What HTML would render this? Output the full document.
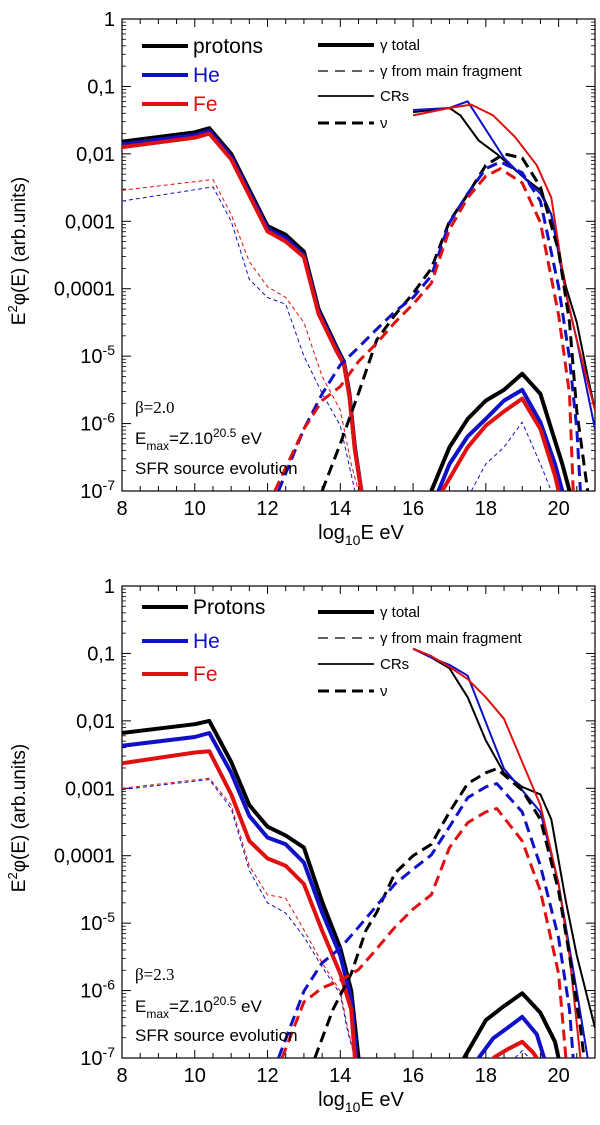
<!DOCTYPE html>
<html><head><meta charset="utf-8"><style>
html,body{margin:0;padding:0;background:#fff;}
svg{display:block;font-family:"Liberation Sans",sans-serif;}
</style></head><body>
<svg id="fig" width="600" height="1125" viewBox="0 0 600 1125"></svg>
<script>
// ---------- data (x = log10 E, y = log10 E^2 phi) ----------
// Top panel (beta = 2.0)
const tProtX=[8,10,10.4,11,12,12.5,13,13.4,13.9,14.1,14.25,14.4,14.58];
const tProtY=[-1.82,-1.68,-1.62,-2.0,-3.07,-3.2,-3.45,-4.3,-4.87,-5.08,-5.55,-6.35,-7];
const tHeY  =[-1.86,-1.72,-1.66,-2.04,-3.11,-3.25,-3.5,-4.34,-4.9,-5.1,-5.57,-6.37,-7];
const tFeY  =[-1.9,-1.76,-1.7,-2.08,-3.15,-3.3,-3.53,-4.37,-4.93,-5.12,-5.6,-6.4,-7];
const tFragRedX=[8,10.5,11,11.5,12,12.5,13,13.5,14,14.3,14.5];
const tFragRedY=[-2.54,-2.38,-2.9,-3.6,-3.97,-4.13,-4.5,-5.3,-5.8,-6.6,-7];
const tFragBlueX=[8,10.5,11,11.5,12,12.5,13,13.5,14,14.4];
const tFragBlueY=[-2.7,-2.49,-3.0,-3.86,-4.13,-4.23,-5.0,-5.55,-6.03,-7];
const tFragBlue2X=[17.6,18,18.5,19,19.5,19.8];
const tFragBlue2Y=[-7,-6.6,-6.35,-5.98,-6.6,-7];
const tCrBlackX=[16,17,17.3,17.8,18.3,19,19.5,19.8,20.2,20.5,20.8,21];
const tCrBlackY=[-1.38,-1.32,-1.43,-1.8,-2.0,-2.33,-2.54,-2.9,-3.97,-4.5,-5.3,-5.8];
const tCrBlueX=[16,17,17.5,18,18.5,19,19.5,19.8,20.2,20.5,21];
const tCrBlueY=[-1.35,-1.32,-1.22,-1.64,-2.06,-2.33,-2.59,-2.9,-4.07,-4.76,-6.08];
const tCrRedX=[16,17,17.6,18.2,18.8,19.4,19.8,20.2,20.5,21];
const tCrRedY=[-1.43,-1.32,-1.27,-1.43,-1.75,-2.17,-2.65,-4.07,-4.76,-5.8];
const tGamBlackX=[16.5,17,17.5,18,18.5,19,19.5,19.8,20.1,20.3];
const tGamBlackY=[-7,-6.35,-5.93,-5.66,-5.5,-5.26,-5.56,-6.08,-6.6,-7];
const tGamBlueX=[16.7,17,17.5,18,18.5,19,19.5,19.9,20.1];
const tGamBlueY=[-7,-6.6,-6.19,-5.93,-5.66,-5.5,-5.98,-6.6,-7];
const tGamRedX=[16.8,17.5,18,18.5,19,19.5,19.9,20.0];
const tGamRedY=[-7,-6.35,-6.03,-5.82,-5.63,-6.08,-6.77,-7];
const tNuBlackX=[13.5,14,14.5,15,15.5,16,16.5,17,17.5,18,18.5,19,19.5,20,20.3,20.5,20.7,20.8];
const tNuBlackY=[-7,-6.3,-5.55,-4.76,-4.39,-4.07,-3.7,-3.0,-2.6,-2.17,-2.0,-2.06,-2.49,-3.44,-4.5,-5.82,-6.61,-7];
const tNuBlueX=[12.3,13,13.5,14,14.5,15,15.5,16,16.5,17,17.5,18,18.4,19,19.5,20,20.3,20.5,20.6];
const tNuBlueY=[-7,-6.08,-5.56,-5.13,-4.87,-4.6,-4.34,-4.13,-3.81,-3.02,-2.59,-2.22,-2.12,-2.28,-2.7,-3.97,-5.03,-6.08,-7];
const tNuRedX=[12.2,13,13.5,14,14.5,15,15.5,16,16.5,17,17.5,18,18.4,19,19.5,20,20.3,20.4];
const tNuRedY=[-7,-6.08,-5.66,-5.45,-5.08,-4.81,-4.5,-4.23,-3.92,-3.12,-2.65,-2.33,-2.22,-2.43,-3.02,-4.39,-5.56,-7];
// Bottom panel (beta = 2.3)
const bProtX=[8,10,10.4,11,11.5,12,12.5,13,13.5,14,14.3,14.5];
const bProtY=[-2.18,-2.05,-2.0,-2.61,-3.25,-3.57,-3.7,-3.88,-4.68,-5.37,-6.0,-7];
const bHeX=[8,10,10.4,11,11.5,12,12.5,13,13.5,14,14.3,14.45];
const bHeY=[-2.37,-2.24,-2.18,-2.77,-3.41,-3.73,-3.83,-4.1,-4.84,-5.48,-6.12,-7];
const bFeX=[8,10,10.4,11,11.5,12,12.5,13,13.5,14,14.3,14.4];
const bFeY=[-2.63,-2.47,-2.45,-3.09,-3.78,-4.04,-4.15,-4.42,-5.11,-5.75,-6.28,-7];
const bFragRedX=[8,10.4,11,11.5,12,12.5,13,13.5,14,14.2,14.4];
const bFragRedY=[-3.0,-2.85,-3.25,-4.15,-4.58,-4.63,-5.1,-5.59,-6.01,-6.55,-7];
const bFragBlueY=[-3.02,-2.87,-3.3,-4.22,-4.7,-4.85,-5.2,-5.65,-6.05,-6.6,-7];
const bFragBlue2X=[18.8,19,19.2];
const bFragBlue2Y=[-7,-6.89,-7];
const bCrBlackX=[16,16.5,17,17.5,18,18.5,19,19.5,19.8,20.2,20.5,21];
const bCrBlackY=[-0.93,-1.06,-1.22,-1.65,-2.29,-2.77,-2.98,-3.09,-3.46,-4.68,-5.48,-6.55];
const bCrBlueX=[16,16.5,17,17.5,18,18.5,19,19.5,20,20.5,20.8];
const bCrBlueY=[-0.93,-1.06,-1.17,-1.33,-2.02,-2.71,-3.03,-3.35,-4.42,-6.01,-7];
const bCrRedX=[16,16.5,17,17.5,18,18.5,19,19.5,20,20.3,20.6];
const bCrRedY=[-0.93,-1.04,-1.2,-1.38,-1.65,-1.97,-2.61,-3.25,-4.42,-5.48,-7];
const bGamBlackX=[17.4,18,18.5,19,19.5,19.9,20.0];
const bGamBlackY=[-7,-6.44,-6.23,-6.04,-6.33,-6.76,-7];
const bGamBlueX=[17.8,18.2,18.6,19,19.4,19.6];
const bGamBlueY=[-7,-6.71,-6.55,-6.39,-6.65,-7];
const bGamRedX=[18.2,18.6,19,19.3,19.4];
const bGamRedY=[-7,-6.87,-6.76,-6.92,-7];
const bNuBlackX=[13.3,13.8,14.3,14.7,15,15.5,16,16.5,17,17.5,18,18.3,19,19.5,20,20.3,20.6,20.7];
const bNuBlackY=[-7,-6.28,-5.75,-5.11,-4.84,-4.26,-4.0,-3.83,-3.35,-2.93,-2.77,-2.71,-3.03,-3.46,-4.52,-5.48,-6.55,-7];
const bNuBlueX=[12.3,13,13.5,14,14.5,15,15.5,16,16.5,17,17.5,18,18.3,19,19.5,20,20.3,20.4];
const bNuBlueY=[-7,-6.01,-5.59,-5.37,-5.06,-4.74,-4.42,-4.2,-3.99,-3.57,-3.14,-2.98,-2.93,-3.35,-4.15,-5.22,-6.28,-7];
const bNuRedX=[12.4,13,13.5,14,14.5,15,15.5,16,16.5,17,17.5,18,18.3,19,19.5,20,20.2];
const bNuRedY=[-7,-6.17,-5.96,-5.85,-5.69,-5.38,-5.06,-4.79,-4.58,-3.88,-3.51,-3.35,-3.3,-3.78,-4.52,-5.75,-7];
// axis ticks
const xTicks=[8,10,12,14,16,18,20];
const yDecades=[0,-1,-2,-3,-4,-5,-6,-7];
const yTickLabels=["1","0,1","0,01","0,001","0,0001","10^-5","10^-6","10^-7"];

// ---------- drawing ----------
const NS="http://www.w3.org/2000/svg";
const svg=document.getElementById('fig');
const X0=122,X1=595,XMIN=8,XMAX=21,DEC=7;
function mk(tag,attrs,parent){const e=document.createElementNS(NS,tag);for(const k in attrs)e.setAttribute(k,attrs[k]);(parent||svg).appendChild(e);return e;}
function panel(top,bottom,idx){
  const g=mk('g',{});
  
  
  const sx=x=>X0+(x-XMIN)/(XMAX-XMIN)*(X1-X0);
  const sy=l=>top+(-l)/DEC*(bottom-top);
  const cid='clip'+idx;
  const defs=mk('defs',{},g);const cp=mk('clipPath',{id:cid},defs);
  mk('rect',{x:X0,y:top,width:X1-X0,height:bottom-top},cp);
  const frame=mk('rect',{x:X0,y:top,width:X1-X0,height:bottom-top,fill:'none',stroke:'#000','stroke-width':1.2},g);
  
  
  // x ticks
  for(let v=8;v<=21.001;v+=0.5){
    const major=Math.abs(v-Math.round(v/2)*2)<1e-6;const L=major?8:5;
    mk('line',{x1:sx(v),x2:sx(v),y1:bottom,y2:bottom-L,stroke:'#000','stroke-width':1},g);
    mk('line',{x1:sx(v),x2:sx(v),y1:top,y2:top+L,stroke:'#000','stroke-width':1},g);
  }
  xTicks.forEach(v=>{const t=mk('text',{x:sx(v),y:bottom+24,'text-anchor':'middle','font-size':20},g);t.textContent=v;
    
    });
  // y ticks
  yDecades.forEach((d,i)=>{
    const y=sy(d);
    mk('line',{x1:X0,x2:X0+9,y1:y,y2:y,stroke:'#000','stroke-width':1},g);
    mk('line',{x1:X1,x2:X1-9,y1:y,y2:y,stroke:'#000','stroke-width':1},g);
    if(d>-7)for(let m=2;m<10;m++){const ym=sy(d-1+Math.log10(m));
      mk('line',{x1:X0,x2:X0+4,y1:ym,y2:ym,stroke:'#000','stroke-width':0.8},g);
      mk('line',{x1:X1,x2:X1-4,y1:ym,y2:ym,stroke:'#000','stroke-width':0.8},g);}
    const lab=yTickLabels[i];
    const t=mk('text',{x:115,y:y+7,'text-anchor':'end','font-size':20},g);
    
    
    if(lab.indexOf('^')>=0){const p=lab.split('^');t.textContent=p[0];const s=mk('tspan',{dy:-8,'font-size':14},t);s.textContent=p[1];}
    else t.textContent=lab;
  });
  // axis titles
  const yt=mk('text',{x:0,y:0,'text-anchor':'middle','font-size':19,transform:`translate(25,${top+232}) rotate(-90)`},g);
  
  
  yt.innerHTML='E<tspan dy="-8" font-size="13">2</tspan><tspan dy="8">φ(E)  (arb.units)</tspan>';
  const xt=mk('text',{x:361,y:bottom+48,'text-anchor':'middle','font-size':20},g);
  
  
  xt.innerHTML='log<tspan dy="6" font-size="14">10</tspan><tspan dy="-6">E eV</tspan>';
  const cg=mk('g',{'clip-path':`url(#${cid})`},g);
  function line(xs,ys,color,w,dash,name){
    const d=xs.map((x,i)=>(i?'L':'M')+sx(x).toFixed(1)+','+sy(ys[i]).toFixed(1)).join(' ');
    const p=mk('path',{d:d,fill:'none',stroke:color,'stroke-width':w,'stroke-linejoin':'round'},cg);
    if(dash)p.setAttribute('stroke-dasharray',dash);
    
    
  }
  return {line,g};
}
const K='#000',B='#1010c8',R='#e01010';
// top
const P1=panel(19,491,'top');
P1.line(tFragRedX,tFragRedY,R,1,'4,3','gamma-fragment-fe-low');
P1.line(tFragBlueX,tFragBlueY,B,1,'4,3','gamma-fragment-he-low');
P1.line(tFragBlue2X,tFragBlue2Y,B,1,'4,3','gamma-fragment-he-high');
P1.line(tProtX,tProtY,K,4,null,'gamma-total-protons-low');
P1.line(tProtX,tHeY,B,4,null,'gamma-total-he-low');
P1.line(tProtX,tFeY,R,4,null,'gamma-total-fe-low');
P1.line(tCrBlackX,tCrBlackY,K,2,null,'cr-protons');
P1.line(tCrBlueX,tCrBlueY,B,2,null,'cr-he');
P1.line(tCrRedX,tCrRedY,R,2,null,'cr-fe');
P1.line(tGamBlackX,tGamBlackY,K,4,null,'gamma-total-protons-high');
P1.line(tGamBlueX,tGamBlueY,B,4,null,'gamma-total-he-high');
P1.line(tGamRedX,tGamRedY,R,4,null,'gamma-total-fe-high');
P1.line(tNuBlackX,tNuBlackY,K,3,'11,6','nu-protons');
P1.line(tNuBlueX,tNuBlueY,B,3,'11,6','nu-he');
P1.line(tNuRedX,tNuRedY,R,3,'11,6','nu-fe');
// bottom
const P2=panel(586,1058,'bottom');
P2.line(bFragRedX,bFragRedY,R,1,'4,3','gamma-fragment-fe-low');
P2.line(bFragRedX,bFragBlueY,B,1,'4,3','gamma-fragment-he-low');
P2.line(bFragBlue2X,bFragBlue2Y,B,1,'4,3','gamma-fragment-he-high');
P2.line(bProtX,bProtY,K,4,null,'gamma-total-protons-low');
P2.line(bHeX,bHeY,B,4,null,'gamma-total-he-low');
P2.line(bFeX,bFeY,R,4,null,'gamma-total-fe-low');
P2.line(bCrBlackX,bCrBlackY,K,2,null,'cr-protons');
P2.line(bCrBlueX,bCrBlueY,B,2,null,'cr-he');
P2.line(bCrRedX,bCrRedY,R,2,null,'cr-fe');
P2.line(bGamBlackX,bGamBlackY,K,4,null,'gamma-total-protons-high');
P2.line(bGamBlueX,bGamBlueY,B,4,null,'gamma-total-he-high');
P2.line(bGamRedX,bGamRedY,R,4,null,'gamma-total-fe-high');
P2.line(bNuBlackX,bNuBlackY,K,3,'11,6','nu-protons');
P2.line(bNuBlueX,bNuBlueY,B,3,'11,6','nu-he');
P2.line(bNuRedX,bNuRedY,R,3,'11,6','nu-fe');

// legends & annotations
function legend(off,names,ys,rys,ann){
  const g=mk('g',{});
  
  
  const cols=[K,B,R];
  names.forEach((n,i)=>{
    mk('line',{x1:142,x2:188,y1:ys[i],y2:ys[i],stroke:cols[i],'stroke-width':4},g);
    const t=mk('text',{x:193,y:ys[i]+7,'font-size':21,fill:cols[i]},g);t.textContent=n;
    
    
  });
  const rl=[['γ total',4,null],['γ from main fragment',1.2,'10,7'],['CRs',1.8,null],['ν',3,'11,6']];
  rl.forEach((r,i)=>{
    const l=mk('line',{x1:318,x2:374,y1:rys[i],y2:rys[i],stroke:'#000','stroke-width':r[1]},g);
    if(r[2])l.setAttribute('stroke-dasharray',r[2]);
    const t=mk('text',{x:380,y:rys[i]+5,'font-size':15},g);t.textContent=r[0];
    
    
  });
  const a1=mk('text',{x:135,y:ann[0]+6,'font-size':17,'font-family':'Liberation Serif, serif'},g);a1.textContent=off;
  
  
  const a2=mk('text',{x:135,y:ann[1]+6,'font-size':17},g);
  
  
  a2.innerHTML='E<tspan dy="6" font-size="12">max</tspan><tspan dy="-6">=Z.10</tspan><tspan dy="-7" font-size="12">20.5</tspan><tspan dy="7"> eV</tspan>';
  const a3=mk('text',{x:135,y:ann[2]+6,'font-size':17},g);a3.textContent='SFR source evolution';
  
  
}
legend('β=2.0',['protons','He','Fe'],[46,75,104],[45,71,96,123],[407,438,468]);
legend('β=2.3',['Protons','He','Fe'],[607,641,674],[612,638,664,691],[974,1006,1035]);
</script>
</body></html>
